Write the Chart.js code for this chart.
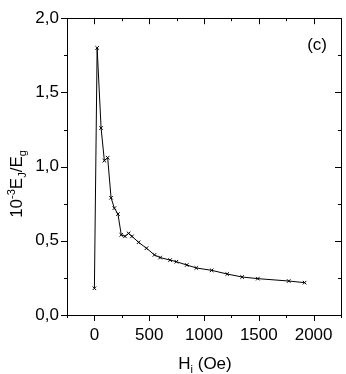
<!DOCTYPE html>
<html>
<head>
<meta charset="utf-8">
<script src="https://cdn.jsdelivr.net/npm/chart.js@4/dist/chart.umd.min.js"></script>
<style>
  html, body { margin: 0; padding: 0; background: #fff; }
  #wrap { width: 346px; height: 374px; }
</style>
</head>
<body>
<div id="wrap"><canvas id="ejChart" width="346" height="374"></canvas></div>
<script>
// H_i (Oe) and 10^-3 Ej/Eg
var fieldValues = [0, 25, 61, 91, 121, 152, 182, 215, 245, 279, 312, 343, 403, 475, 548, 600, 691, 748, 843, 930, 1070, 1212, 1348, 1491, 1773, 1918];
var ratioValues = [0.18, 1.80, 1.26, 1.04, 1.06, 0.79, 0.72, 0.68, 0.54, 0.53, 0.55, 0.53, 0.49, 0.45, 0.405, 0.387, 0.37, 0.359, 0.337, 0.317, 0.301, 0.276, 0.256, 0.245, 0.229, 0.218];
var xTicks = [0, 500, 1000, 1500, 2000];
var yTicks = [0, 0.5, 1.0, 1.5, 2.0];

var points = fieldValues.map(function (x, i) { return { x: x, y: ratioValues[i] }; });
var font = "'Liberation Sans', Arial, sans-serif";

// frame, ticks and titles drawn from the chart's own scales
var framePlugin = {
    id: "frame",
    afterDraw: function (chart) {
        var ctx = chart.ctx;
        var a = chart.chartArea;
        var xs = chart.scales.x;
        var ys = chart.scales.y;
        ctx.save();
        ctx.strokeStyle = "#000";
        ctx.lineWidth = 1;
        ctx.strokeRect(Math.round(a.left) + 0.5, Math.round(a.top) + 0.5, Math.round(a.right - a.left), Math.round(a.bottom - a.top));
        ctx.beginPath();
        for (var v = -250; v <= 2250; v += 250) {
            var px = Math.round(xs.getPixelForValue(v)) + 0.5;
            var len = (v % 500 === 0) ? 6 : 3;
            ctx.moveTo(px, a.bottom); ctx.lineTo(px, a.bottom + len);
            ctx.moveTo(px, a.top); ctx.lineTo(px, a.top + len);
        }
        for (var k = 0; k <= 8; k++) {
            var val = k * 0.25;
            var py = Math.round(ys.getPixelForValue(val)) + 0.5;
            var ln = (k % 2 === 0) ? 6 : 3;
            ctx.moveTo(a.left, py); ctx.lineTo(a.left - ln, py);
            ctx.moveTo(a.right, py); ctx.lineTo(a.right - ln, py);
        }
        ctx.stroke();

        ctx.fillStyle = "#000";
        ctx.textBaseline = "alphabetic";
        ctx.textAlign = "left";

        // x title: H_i (Oe)
        var xt = "H", xsub = "i", xrest = " (Oe)";
        ctx.font = "17px " + font;
        var w1 = ctx.measureText(xt).width;
        var w3 = ctx.measureText(xrest).width;
        ctx.font = "11px " + font;
        var w2 = ctx.measureText(xsub).width;
        var cx = (a.left + a.right) / 2 + 1;
        var sx = cx - (w1 + w2 + w3) / 2;
        var by = 369;
        ctx.font = "17px " + font;
        ctx.fillText(xt, sx, by);
        ctx.font = "11px " + font;
        ctx.fillText(xsub, sx + w1, by + 4);
        ctx.font = "17px " + font;
        ctx.fillText(xrest, sx + w1 + w2, by);

        // y title: 10^-3 E_J/E_g, rotated
        ctx.save();
        ctx.translate(22, 184);
        ctx.rotate(-Math.PI / 2);
        var parts = [
            { t: "10", s: 17, dy: 0 },
            { t: "-3", s: 11, dy: -7 },
            { t: "E", s: 17, dy: 0 },
            { t: "J", s: 11, dy: 4 },
            { t: "/E", s: 17, dy: 0 },
            { t: "g", s: 11, dy: 4 }
        ];
        var total = 0;
        parts.forEach(function (p) { ctx.font = p.s + "px " + font; p.w = ctx.measureText(p.t).width; total += p.w; });
        var pos = -total / 2;
        parts.forEach(function (p) {
            ctx.font = p.s + "px " + font;
            ctx.fillText(p.t, pos, p.dy);
            pos += p.w;
        });
        ctx.restore();

        // panel label
        ctx.font = "17px " + font;
        ctx.textAlign = "right";
        ctx.fillText("(c)", a.right - 14, 50);
        ctx.restore();
    }
};

new Chart("ejChart", {
    type: "scatter",
    data: {
        datasets: [{
            data: points,
            showLine: true,
            borderColor: "#000",
            borderWidth: 1,
            pointStyle: "crossRot",
            pointRadius: 2.5,
            pointBorderColor: "#000",
            pointBorderWidth: 1,
            backgroundColor: "#000",
            tension: 0
        }]
    },
    options: {
        responsive: false,
        animation: false,
        events: [],
        layout: { padding: { top: 16, right: 4, left: 0, bottom: 0 } },
        plugins: {
            legend: { display: false },
            tooltip: { enabled: false }
        },
        scales: {
            x: {
                type: "linear",
                min: -250,
                max: 2250,
                afterBuildTicks: function (axis) {
                    axis.ticks = xTicks.map(function (v) { return { value: v }; });
                },
                afterFit: function (axis) { axis.height = 59; },
                grid: { display: false, drawTicks: false },
                border: { display: false },
                ticks: {
                    color: "#000",
                    font: { family: font, size: 17 },
                    padding: 10,
                    maxRotation: 0,
                    autoSkip: false,
                    callback: function (v) { return String(v); }
                }
            },
            y: {
                type: "linear",
                min: 0,
                max: 2,
                afterBuildTicks: function (axis) {
                    axis.ticks = yTicks.map(function (v) { return { value: v }; });
                },
                afterFit: function (axis) { axis.width = 67; },
                grid: { display: false, drawTicks: false },
                border: { display: false },
                ticks: {
                    color: "#000",
                    font: { family: font, size: 17 },
                    padding: 8,
                    callback: function (v) { return v.toFixed(1).replace(".", ","); }
                }
            }
        }
    },
    plugins: [framePlugin]
});
</script>
</body>
</html>
